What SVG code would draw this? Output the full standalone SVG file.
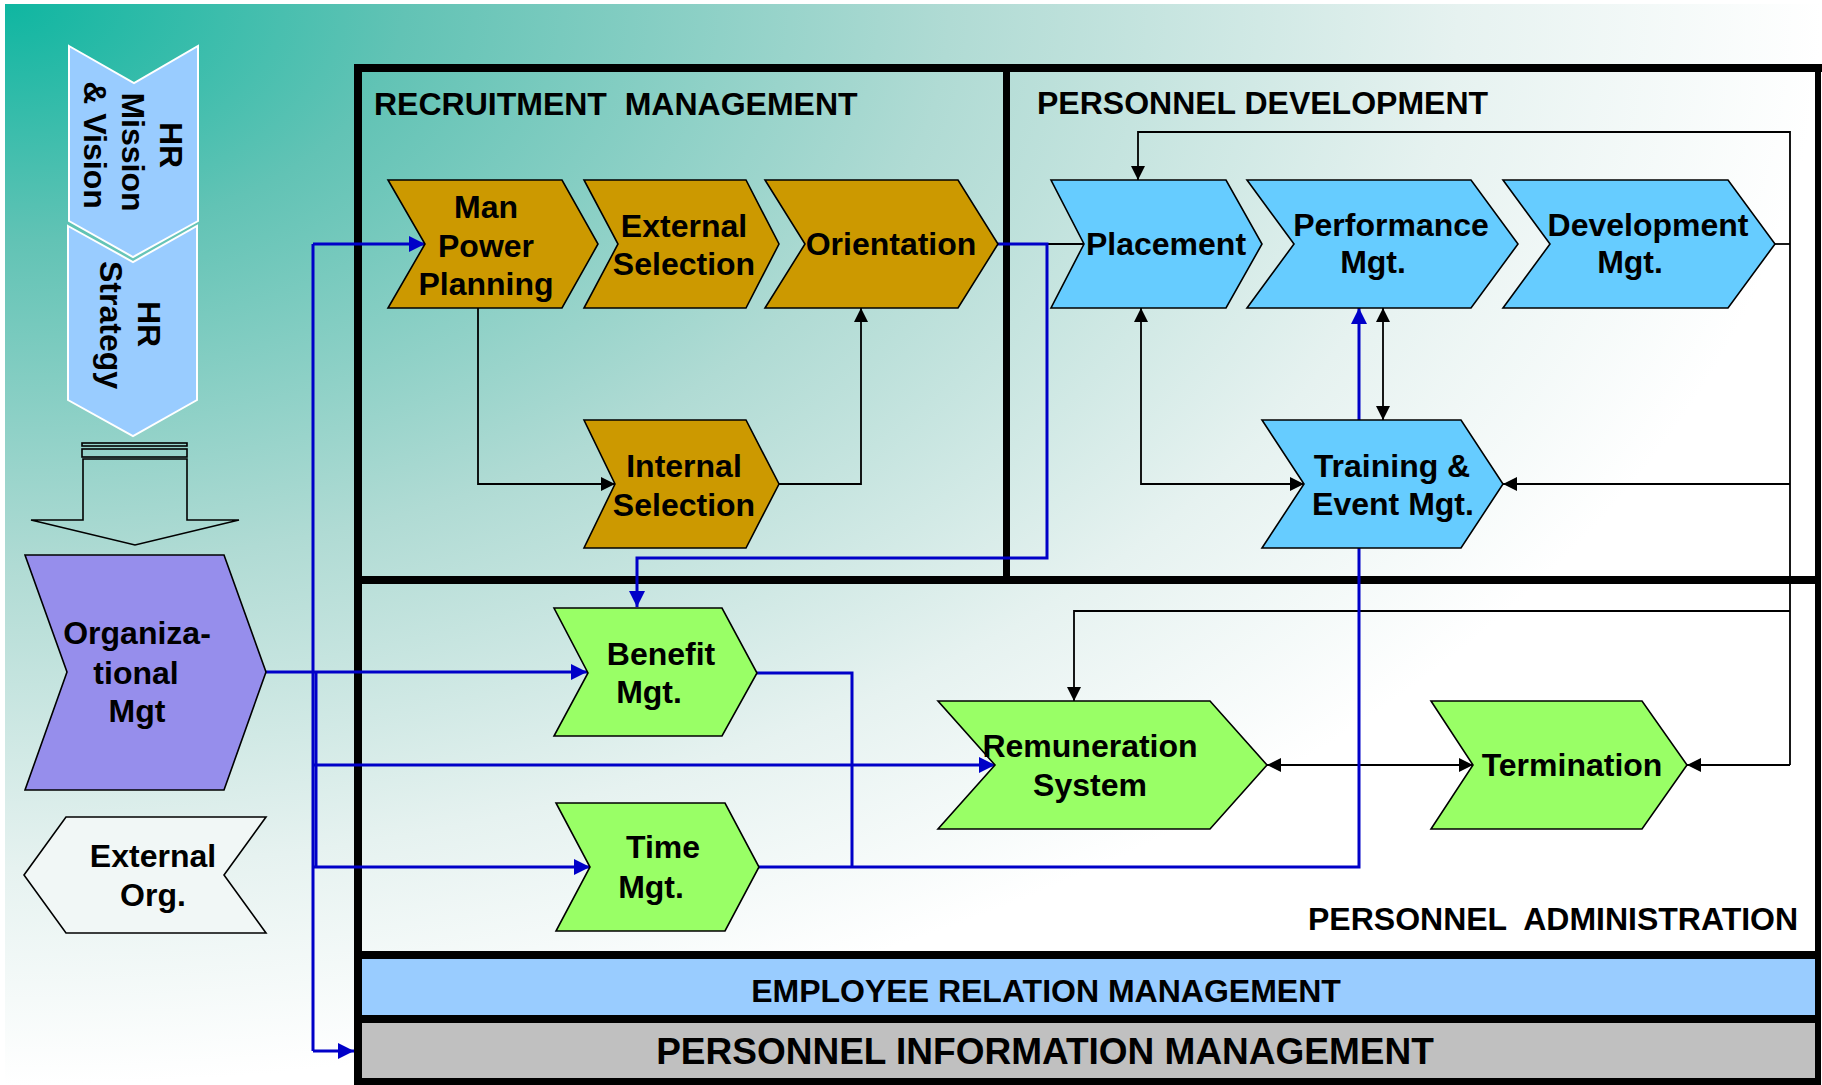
<svg xmlns="http://www.w3.org/2000/svg" width="1822" height="1085" viewBox="0 0 1822 1085">
<defs>
<radialGradient id="bg" cx="0" cy="0" r="1" fx="0" fy="0" gradientUnits="objectBoundingBox">
<stop offset="0" stop-color="#0fb6a1"/>
<stop offset="0.22" stop-color="#62c3b5"/>
<stop offset="0.52" stop-color="#b0dbd4"/>
<stop offset="0.8" stop-color="#e6f2f0"/>
<stop offset="1" stop-color="#ffffff"/>
</radialGradient>
<marker id="ab" viewBox="0 0 14 14" refX="14" refY="7" markerWidth="14" markerHeight="14" markerUnits="userSpaceOnUse" orient="auto-start-reverse"><path d="M0,0 L14,7 L0,14 z" fill="#000"/></marker>
<marker id="au" viewBox="0 0 16 16" refX="16" refY="8" markerWidth="16" markerHeight="16" markerUnits="userSpaceOnUse" orient="auto-start-reverse"><path d="M0,0 L16,8 L0,16 z" fill="#0000c8"/></marker>
</defs>
<style>
.t{font-family:"Liberation Sans",Arial,sans-serif;font-weight:bold;font-size:32px;fill:#000}
.m{text-anchor:middle}
.bk{fill:none;stroke:#000;stroke-width:1.8}
.bl{fill:none;stroke:#0000c8;stroke-width:3}
.fr{fill:none;stroke:#000;stroke-width:8}
.sh{stroke:#000;stroke-width:1.6}
.or{fill:#cc9900}
.cy{fill:#66ccff}
.gr{fill:#99ff66}
</style>
<rect x="0" y="0" width="1822" height="1085" fill="#ffffff"/>
<rect x="5" y="4" width="1817" height="1081" fill="url(#bg)"/>

<g id="frame">
<rect x="362" y="959" width="1453" height="56" fill="#99ccff"/>
<rect x="362" y="1023" width="1453" height="55" fill="#c0c0c0"/>
<path class="fr" d="M354,68 H1822"/>
<path class="fr" d="M358,64 V1085"/>
<path fill="none" stroke="#000" stroke-width="6" d="M1818,64 V1085"/>
<path fill="none" stroke="#000" stroke-width="7" d="M1006.5,68 V580"/>
<path class="fr" d="M358,580 H1818"/>
<path class="fr" d="M358,955 H1818"/>
<path class="fr" d="M358,1019 H1818"/>
<path fill="none" stroke="#000" stroke-width="7" d="M358,1081.5 H1818"/>
<text class="t" x="374" y="115" xml:space="preserve">RECRUITMENT  MANAGEMENT</text>
<text class="t" x="1037" y="114">PERSONNEL DEVELOPMENT</text>
<text class="t" x="1308" y="930" xml:space="preserve">PERSONNEL  ADMINISTRATION</text>
<text class="t m" x="1046" y="1002">EMPLOYEE RELATION MANAGEMENT</text>
<text class="t m" x="1045" y="1064" style="font-size:37px">PERSONNEL INFORMATION MANAGEMENT</text>
</g>

<g id="connectors">
<path class="bk" d="M478,308 V484 H615" marker-end="url(#ab)"/>
<path class="bk" d="M779,484 H861 V308" marker-end="url(#ab)"/>
<path class="bk" d="M993,244 H1084"/>
<path class="bk" d="M1775,244 H1790"/>
<path class="bk" d="M1790,765 V132 H1138 V180" marker-end="url(#ab)"/>
<path class="bk" d="M1141,308 V484 H1304" marker-start="url(#ab)" marker-end="url(#ab)"/>
<path class="bk" d="M1383,308 V420" marker-start="url(#ab)" marker-end="url(#ab)"/>
<path class="bk" d="M1790,484 H1503" marker-end="url(#ab)"/>
<path class="bk" d="M1790,611 H1074 V701" marker-end="url(#ab)"/>
<path class="bk" d="M1790,765 H1687" marker-end="url(#ab)"/>
<path class="bk" d="M1267,765 H1473" marker-start="url(#ab)" marker-end="url(#ab)"/>
<path class="bl" d="M266,672 H313"/>
<path class="bl" d="M313,244 V1051"/>
<path class="bl" d="M316,672 V867"/>
<path class="bl" d="M313,244 H425" marker-end="url(#au)"/>
<path class="bl" d="M313,672 H587" marker-end="url(#au)"/>
<path class="bl" d="M313,765 H995" marker-end="url(#au)"/>
<path class="bl" d="M313,867 H590" marker-end="url(#au)"/>
<path class="bl" d="M313,1051 H354" marker-end="url(#au)"/>
<path class="bl" d="M998,244 H1047 V558 H637 V607" marker-end="url(#au)"/>
<path class="bl" d="M757,673 H852 V867"/>
<path class="bl" d="M758,867 H1359 V548"/>
<path class="bl" d="M1359,420 V308" marker-end="url(#au)"/>
</g>

<g id="hr-mission">
<polygon points="69,46 134,83 198,46 198,221 133,257 69,221" fill="#99ccff" stroke="#ffffff" stroke-width="2"/>
<g transform="translate(0,0) rotate(90)">
<text class="t m" x="145" y="-160">HR</text>
<text class="t m" x="152" y="-122">Mission</text>
<text class="t m" x="145" y="-84">&amp; Vision</text>
</g>
</g>
<g id="hr-strategy">
<polygon points="68,226 133,262 197,226 197,400 133,436 68,400" fill="#99ccff" stroke="#ffffff" stroke-width="2"/>
<g transform="rotate(90)">
<text class="t m" x="324" y="-138">HR</text>
<text class="t m" x="325" y="-100">Strategy</text>
</g>
</g>
<g id="down-arrow" fill="none" stroke="#000" stroke-width="1.6">
<rect x="82" y="443" width="105" height="3"/>
<rect x="82" y="449" width="105" height="8"/>
<polygon points="83,459 187,459 187,520 239,520 135,545 31,520 83,520"/>
</g>
<g id="org-mgt">
<polygon class="sh" points="25,555 224,555 266,672 224,790 25,790 67,672" fill="#968eec"/>
<text class="t m" x="137" y="644">Organiza-</text>
<text class="t m" x="136" y="684">tional</text>
<text class="t m" x="137" y="722">Mgt</text>
</g>
<g id="external-org">
<polygon class="sh" points="24,875 66,817 266,817 224,875 266,933 66,933" fill="#f1f7f6"/>
<text class="t m" x="153" y="867">External</text>
<text class="t m" x="153" y="906">Org.</text>
</g>

<g id="man-power">
<polygon class="sh or" points="388,180 562,180 598,244 562,308 388,308 425,244"/>
<text class="t m" x="486" y="218">Man</text>
<text class="t m" x="486" y="257">Power</text>
<text class="t m" x="486" y="295">Planning</text>
</g>
<g id="external-selection">
<polygon class="sh or" points="584,180 746,180 779,244 746,308 584,308 618,244"/>
<text class="t m" x="684" y="237">External</text>
<text class="t m" x="684" y="275">Selection</text>
</g>
<g id="orientation">
<polygon class="sh or" points="765,180 958,180 998,244 958,308 765,308 805,244"/>
<text class="t m" x="891" y="255">Orientation</text>
</g>
<g id="internal-selection">
<polygon class="sh or" points="584,420 746,420 779,484 746,548 584,548 615,484"/>
<text class="t m" x="684" y="477">Internal</text>
<text class="t m" x="684" y="516">Selection</text>
</g>

<g id="placement">
<polygon class="sh cy" points="1051,180 1226,180 1262,244 1226,308 1051,308 1084,244"/>
<text class="t m" x="1166" y="255">Placement</text>
</g>
<g id="performance">
<polygon class="sh cy" points="1247,180 1471,180 1518,244 1471,308 1247,308 1294,244"/>
<text class="t m" x="1391" y="236">Performance</text>
<text class="t m" x="1373" y="273">Mgt.</text>
</g>
<g id="development">
<polygon class="sh cy" points="1503,180 1728,180 1775,244 1728,308 1503,308 1550,244"/>
<text class="t m" x="1648" y="236">Development</text>
<text class="t m" x="1630" y="273">Mgt.</text>
</g>
<g id="training">
<polygon class="sh cy" points="1262,420 1461,420 1503,484 1461,548 1262,548 1304,484"/>
<text class="t m" x="1392" y="477">Training &amp;</text>
<text class="t m" x="1393" y="515">Event Mgt.</text>
</g>

<g id="benefit">
<polygon class="sh gr" points="554,608 722,608 757,673 722,736 554,736 588,673"/>
<text class="t m" x="661" y="665">Benefit</text>
<text class="t m" x="649" y="703">Mgt.</text>
</g>
<g id="time">
<polygon class="sh gr" points="556,803 725,803 759,867 725,931 556,931 590,867"/>
<text class="t m" x="663" y="858">Time</text>
<text class="t m" x="651" y="898">Mgt.</text>
</g>
<g id="remuneration">
<polygon class="sh gr" points="938,701 1210,701 1267,765 1210,829 938,829 995,765"/>
<text class="t m" x="1090" y="757">Remuneration</text>
<text class="t m" x="1090" y="796">System</text>
</g>
<g id="termination">
<polygon class="sh gr" points="1431,701 1642,701 1687,765 1642,829 1431,829 1473,765"/>
<text class="t m" x="1572" y="776">Termination</text>
</g>
</svg>
